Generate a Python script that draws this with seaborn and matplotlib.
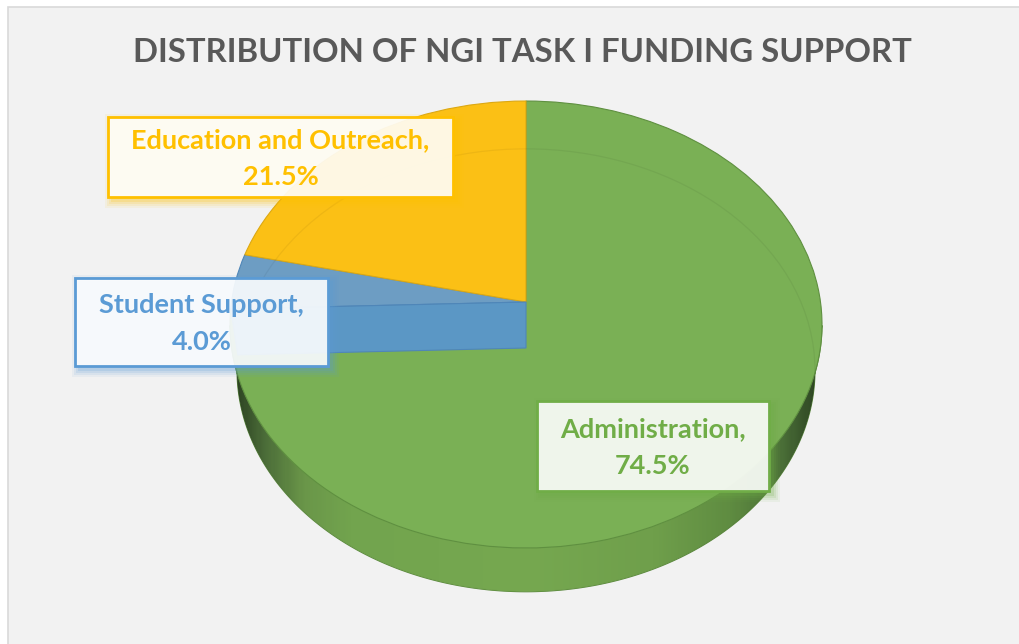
import numpy as np
import matplotlib
matplotlib.use("Agg")
import matplotlib.pyplot as plt
import seaborn as sns
from matplotlib.patches import Rectangle, Polygon, Ellipse
from matplotlib.transforms import Transform
from matplotlib.colors import LinearSegmentedColormap

categories = ["Administration", "Student Support", "Education and Outreach"]
shares = [74.5, 4.0, 21.5]
title = "DISTRIBUTION OF NGI TASK I FUNDING SUPPORT"
face_colors = ["#7ab055", "#6d9dc3", "#fbc015"]
edge_colors = ["#5f9040", "#4f86b8", "#dca812"]
label_colors = ["#70ad47", "#5b9bd5", "#ffc000"]
wall_blue = "#5b97c5"
side_stops = [(0.0, "#2a3f20"), (0.05, "#4a6b38"), (0.12, "#6a9649"), (0.2, "#72a44e"),
              (0.5, "#76a850"), (0.72, "#6f9f4b"), (0.85, "#5f8c41"), (0.94, "#4a6e37"), (1.0, "#2c4322")]

sns.set_theme(style="white")
plt.rcParams["font.family"] = ["Lato", "DejaVu Sans"]
palette = sns.color_palette(face_colors)


class Perspective(Transform):
    input_dims = output_dims = 2

    def __init__(self, cx, cy, h, k, c=0.1007):
        super().__init__()
        self.cx, self.cy, self.h, self.k, self.c = cx, cy, h, k, c

    def transform_non_affine(self, pts):
        pts = np.asarray(pts, float)
        w = 1 + self.c * pts[:, 1]
        return np.column_stack([self.cx + self.h * pts[:, 0] / w,
                                self.cy - self.k * pts[:, 1] / w])


top = Perspective(526, 302, 294.5, 221.2)
bottom = Perspective(526, 348, 287.5, 219.2)

fig = plt.figure(figsize=(10.2, 6.44), dpi=100, facecolor="white")
ax = fig.add_axes([0, 0, 1, 1])
wedges, _ = ax.pie(shares, colors=palette, startangle=90, counterclock=False, radius=1,
                   wedgeprops=dict(linewidth=0.8))
ax.set_aspect("auto")
ax.set_xlim(0, 1020)
ax.set_ylim(644, 0)
ax.set_axis_off()

# panel
ax.add_patch(Rectangle((8, 6.5), 1030, 660, facecolor="#f2f2f2", edgecolor="#d9d9d9", lw=1.2, zorder=0))

# side wall with horizontal shading
theta = np.radians(np.linspace(186, 354, 240))
ring = np.column_stack([np.cos(theta), np.sin(theta)])
outline = np.vstack([bottom.transform_non_affine(ring), top.transform_non_affine(ring)[::-1]])
side = Polygon(outline, closed=True, facecolor="none", edgecolor="#5f9040", lw=0.8, zorder=1)
ax.add_patch(side)
cmap = LinearSegmentedColormap.from_list("side", side_stops)
img = ax.imshow(np.linspace(0, 1, 300)[None, :], cmap=cmap, aspect="auto",
                extent=(232, 820, 600, 300), zorder=1)
img.set_clip_path(side)
ax.set_xlim(0, 1020)
ax.set_ylim(644, 0)

# top face wedges through the perspective mapping
for w, e in zip(wedges, edge_colors):
    w.set_transform(top + ax.transData)
    w.set_edgecolor(e)
    w.set_zorder(2)

# rim of the far face, seen through the top
rim = Ellipse((0, 0), 2, 2, fill=False, edgecolor="black", alpha=0.05, lw=0.9, zorder=3,
              transform=bottom + ax.transData)
ax.add_patch(rim)

# inner wall behind the student-support slice
end_angle = np.radians(90 - 360 * (shares[0]) / sum(shares))
edge_pt = np.array([[0.0, 0.0], [np.cos(end_angle), np.sin(end_angle)]])
t_pts, b_pts = top.transform_non_affine(edge_pt), bottom.transform_non_affine(edge_pt)
ax.add_patch(Polygon(np.vstack([t_pts, b_pts[::-1]]), closed=True, facecolor=wall_blue,
                     edgecolor=edge_colors[1], lw=0.8, zorder=4))

# title
ax.text(522, 52.5, title, ha="center", va="center", fontsize=23.7, fontweight="bold", color="#595959", zorder=8)

# data labels
boxes = [(537, 401, 232, 90), (75, 278, 253, 88), (108, 117, 345, 80)]
for name, val, col, (x, y, bw, bh) in zip(categories, shares, label_colors, boxes):
    for g, a in zip([7, 5, 3, 1], [0.07, 0.1, 0.13, 0.18]):
        ax.add_patch(Rectangle((x + 4 - g, y + 4 - g), bw + 2 * g, bh + 2 * g, facecolor=col,
                               edgecolor="none", alpha=a, zorder=5))
    ax.add_patch(Rectangle((x, y), bw, bh, facecolor="white", edgecolor="none", alpha=0.89, zorder=6))
    ax.add_patch(Rectangle((x, y), bw, bh, facecolor="none", edgecolor=col, lw=2.0, zorder=6))
    ax.text(x + bw / 2, y + bh / 2 + 1.5, f"{name},\n{val:.1f}%", ha="center", va="center",
            fontsize=19.5, fontweight="bold", color=col, linespacing=1.66, zorder=7)

fig.savefig("out.png", dpi=100, facecolor="white")
